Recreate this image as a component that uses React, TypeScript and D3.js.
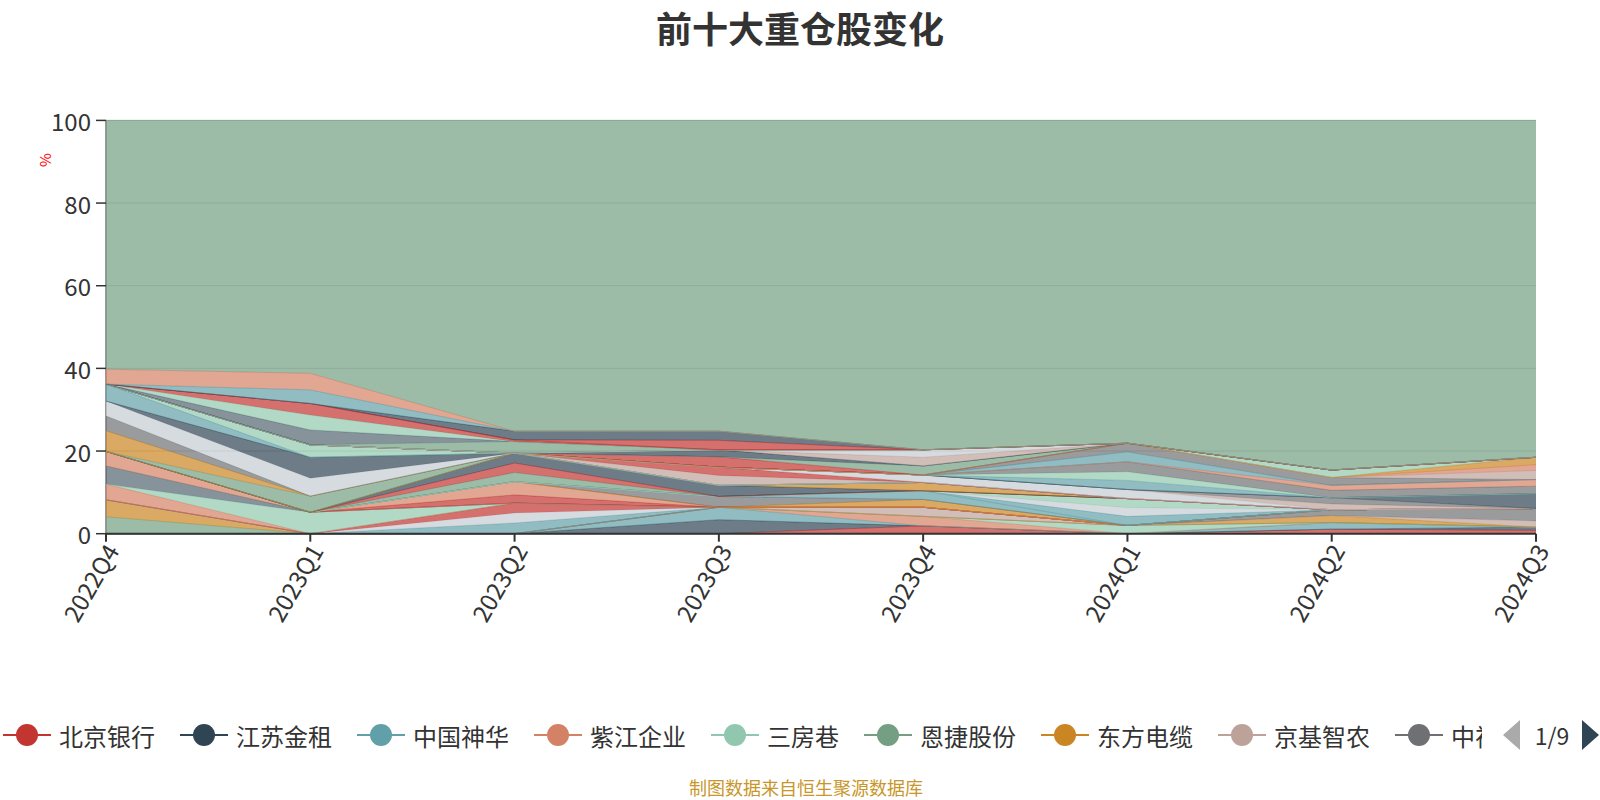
import React from 'react';
import * as d3 from 'd3';

const quarters = ['2022Q4', '2023Q1', '2023Q2', '2023Q3', '2023Q4', '2024Q1', '2024Q2', '2024Q3'];
const yTicks = [0, 20, 40, 60, 80, 100];

// stacking order, bottom to top (first nine are the visible legend page)
const seriesNames = [
  '北京银行', '江苏金租', '中国神华', '紫江企业', '三房巷', '恩捷股份', '东方电缆', '京基智农', '中视传媒',
  '长江电力', '宁沪高速', '招商银行', '万华化学', '华阳股份', '中国海油', '新澳股份', '兴业银行', '贵州茅台',
  '中国移动', '福耀玻璃', '陕西煤业', '中国石油', '大秦铁路', '海尔智家', '宁德时代', '工商银行', '中远海控',
  '美的集团', '隆基绿能', '三一重工', '通威股份', '紫金矿业', '比亚迪', '格力电器', '立讯精密', '伊利股份',
  '宁波银行', '中国电信', '牧原股份', '山东高速', '中国银行', '建设银行', '农业银行', '中国平安', '海螺水泥',
  '五粮液', '中国建筑', '温氏股份', '上汽集团', '汇川技术', '洛阳钼业', '成都银行', '天合光能', '中信证券',
  '恒瑞医药', '迈瑞医疗', '晶澳科技', '华能水电', '中国核电', '杭州银行', '南京银行', '中国重汽', '厦门象屿',
  '中国中免',
];

// % of net value per quarter, same order as seriesNames
const seriesValues = [
  [0, 0, 0, 0, 1.9, 0, 1.1, 0.8],
  [0, 0, 0, 3.4, 0, 0, 0, 0.8],
  [0, 0, 0, 3.0, 0, 0, 1.6, 0],
  [0, 0, 0, 0, 2.3, 0, 0, 0],
  [0, 0, 0, 0, 0, 2.0, 0, 0],
  [4.1, 0, 0, 0, 0, 0, 0, 0],
  [4.1, 0, 0, 0, 0, 0, 1.7, 0],
  [0, 0, 0, 0, 2.2, 0, 0, 1.5],
  [0, 0, 0, 0, 0, 0, 1.4, 3.0],
  [0, 0, 2.6, 0, 0, 0, 0, 0],
  [0, 0, 2.4, 0, 0, 0, 0, 0],
  [0, 0, 2.4, 0, 0, 0, 0, 0],
  [3.8, 0, 0, 0, 0, 0, 0, 0],
  [0, 5.2, 0, 0, 0, 0, 0, 0],
  [4.4, 0, 0, 0, 0, 0, 0, 0],
  [3.5, 0, 0, 0, 0, 0, 0, 0],
  [0, 0, 2.0, 0, 0, 0, 0, 0],
  [0, 0, 3.2, 0, 0, 0, 0, 0],
  [0, 0, 0, 0, 1.9, 0, 0, 0],
  [0, 0, 0, 2.6, 0, 0, 0, 0],
  [0, 0, 0, 0, 2.1, 0, 0, 0],
  [0, 0, 0, 0, 0, 2.2, 0, 0],
  [0, 0, 0, 0, 0, 2.1, 0, 0],
  [0, 0, 0, 0, 0, 2.2, 0, 0],
  [0, 0, 2.2, 0, 0, 0, 0, 0],
  [0, 0, 2.3, 0, 0, 0, 0, 0],
  [0, 0, 2.4, 2.7, 0, 0, 0, 0],
  [0, 0, 0, 0, 2.0, 0, 0, 0],
  [0, 3.9, 0, 0, 0, 0, 0, 0],
  [5.0, 0, 0, 0, 0, 0, 0, 0],
  [3.6, 0, 0, 0, 0, 0, 0, 0],
  [3.6, 4.3, 0, 0, 0, 0, 0, 0],
  [0, 5.1, 0, 0, 0, 0, 0, 0],
  [4.1, 0, 0, 0, 0, 0, 0, 0],
  [0, 3.0, 0, 0, 0, 0, 0, 0],
  [0, 0, 0, 2.4, 0, 0, 0, 0],
  [0, 0, 0, 2.0, 0, 0, 0, 0],
  [0, 0, 0, 0, 1.8, 2.2, 0, 0],
  [0, 0, 0, 0, 0, 0, 1.4, 0],
  [0, 0, 0, 0, 0, 0, 1.5, 0],
  [0, 0, 0, 0, 0, 0, 0, 3.6],
  [0, 0, 0, 0, 0, 2.2, 0, 0],
  [0, 0, 0, 0, 0, 2.1, 0, 0],
  [0, 0, 0, 0, 0, 2.4, 1.8, 1.8],
  [0, 0, 0, 0, 0, 0, 1.2, 1.6],
  [0, 0, 0, 0, 0, 2.4, 0, 0],
  [0, 0, 0, 0, 0, 2.1, 1.9, 0],
  [0, 0, 0, 0, 0, 0, 0, 2.2],
  [0, 0, 0, 0, 0, 0, 0, 1.4],
  [0, 0, 0, 0, 0, 0, 0, 1.8],
  [0, 0, 0, 0, 0, 0, 1.8, 0],
  [0, 0, 0, 2.5, 0, 0, 0, 0],
  [0, 0, 0, 0, 2.2, 0, 0, 0],
  [0, 0, 0, 1.7, 0, 0, 0, 0],
  [0, 0, 0, 0, 2.1, 0, 0, 0],
  [0, 0, 0, 0, 1.8, 0, 0, 0],
  [0, 0, 2.8, 0, 0, 0, 0, 0],
  [0, 3.6, 0, 0, 0, 0, 0, 0],
  [0, 3.6, 0, 0, 0, 0, 0, 0],
  [0, 2.8, 0.4, 0, 0, 0, 0, 0],
  [0, 0, 0, 2.3, 0, 0, 0, 0],
  [0, 0, 2.1, 2.2, 0, 0, 0, 0],
  [0, 3.3, 0, 0, 0, 0, 0, 0],
  [3.6, 4.0, 0, 0, 0, 0, 0, 0],
];

const otherName = '其他';
const otherValues = [60.2, 61.2, 75.2, 75.2, 79.7, 78.1, 84.6, 81.5];

// ---- styles ----
const palette: Record<string, string> = {
  red: '#c23531', dark: '#2f4554', blue: '#61a0a8', salmon: '#d48265', mint: '#91c7ae',
  green: '#749f83', orange: '#ca8622', beige: '#bda29a', gray: '#6e7074', slate: '#546570', light: '#c4ccd3',
};
const seriesColorKeys = [
  'red', 'dark', 'blue', 'salmon', 'mint', 'green', 'orange', 'beige', 'gray',
  'blue', 'light', 'red', 'salmon', 'mint', 'slate', 'salmon', 'red', 'salmon',
  'orange', 'gray', 'blue', 'blue', 'light', 'mint', 'green', 'red', 'dark',
  'orange', 'green', 'orange', 'gray', 'light', 'dark', 'blue', 'mint', 'beige',
  'red', 'light', 'beige', 'gray', 'dark', 'blue', 'mint', 'gray', 'salmon',
  'blue', 'gray', 'beige', 'salmon', 'orange', 'mint', 'red', 'green', 'dark',
  'beige', 'light', 'green', 'slate', 'mint', 'red', 'red', 'dark', 'blue',
  'salmon',
];
const otherColorKey = 'green';

const FONT = "'Noto Sans CJK SC', 'Noto Sans', sans-serif";

export default function App() {
  const W = 1600;
  const H = 800;
  const left = 106;
  const right = 1536;
  const top = 120.4;
  const bottom = 533.7;
  const legendClipX = 1482;

  const x = d3.scalePoint<string>().domain(quarters).range([left, right]);
  const y = d3.scaleLinear().domain([0, 100]).range([bottom, top]);

  const keys = [...seriesNames, otherName];
  const colors = [...seriesColorKeys, otherColorKey].map((k) => palette[k]);
  const rows = quarters.map((q, i) => {
    const r: any = { q };
    seriesNames.forEach((n, j) => (r[n] = seriesValues[j][i]));
    r[otherName] = otherValues[i];
    return r;
  });
  const layers = d3.stack<any>().keys(keys)(rows);
  const area = d3
    .area<any>()
    .x((d) => x(d.data.q) as number)
    .y0((d) => y(d[0]))
    .y1((d) => y(d[1]));
  const line = d3
    .line<any>()
    .x((d) => x(d.data.q) as number)
    .y((d) => y(d[1]));

  // legend layout (first page); labels cut where the page area ends
  const legendFs = 24;
  const legendItems: { name: string; label: string; color: string; x0: number }[] = [];
  let lx = 3;
  for (let i = 0; i < 9; i++) {
    const name = seriesNames[i];
    const tx = lx + 56;
    const fitChars = Math.max(1, Math.ceil((legendClipX - tx) / legendFs));
    legendItems.push({ name, label: name.slice(0, fitChars), color: colors[i], x0: lx });
    lx += 56 + name.length * legendFs + 25;
  }
  const legendY = 735;

  return (
    <svg
      width={W}
      height={H}
      style={{ position: 'absolute', left: 0, top: 0, background: '#fff' }}
      fontFamily={FONT}
    >
      <defs>
        <clipPath id="legendClip">
          <rect x={0} y={700} width={legendClipX} height={70} />
        </clipPath>
      </defs>

      <text x={800} y={27} textAnchor="middle" dominantBaseline="central" fontSize={36} fontWeight="bold" fill="#333">
        前十大重仓股变化
      </text>

      {/* grid */}
      {yTicks.map((t) => (
        <line key={'g' + t} x1={left} x2={right} y1={y(t)} y2={y(t)} stroke="#ccc" strokeWidth={1} />
      ))}
      <line x1={left} x2={left} y1={top} y2={bottom} stroke="#333" strokeWidth={1} />

      {/* stacked areas */}
      {layers.map((layer, i) => (
        <g key={keys[i]}>
          <path d={area(layer) as string} fill={colors[i]} fillOpacity={0.7} stroke="none" />
          <path d={line(layer) as string} fill="none" stroke={colors[i]} strokeWidth={1} strokeOpacity={0.7} />
        </g>
      ))}

      {/* y axis */}
      {yTicks.map((t) => (
        <g key={'y' + t}>
          <line x1={left - 10} x2={left} y1={y(t)} y2={y(t)} stroke="#333" strokeWidth={1.5} />
          <text x={left - 15} y={y(t)} textAnchor="end" dominantBaseline="central" fontSize={24} fill="#333">
            {t}
          </text>
        </g>
      ))}
      <text
        transform={`translate(44,160) rotate(-90)`}
        textAnchor="middle"
        dominantBaseline="central"
        fontSize={15}
        fill="#ff0000"
      >
        %
      </text>

      {/* x axis */}
      <line x1={left} x2={right} y1={bottom} y2={bottom} stroke="#333" strokeWidth={2} />
      {quarters.map((q) => (
        <g key={'x' + q}>
          <line x1={x(q)} x2={x(q)} y1={bottom} y2={bottom + 8} stroke="#333" strokeWidth={2} />
          <text
            transform={`translate(${(x(q) as number) + 5},${bottom + 12}) rotate(-60)`}
            textAnchor="end"
            dominantBaseline="central"
            fontSize={24}
            fill="#333"
          >
            {q}
          </text>
        </g>
      ))}

      {/* legend */}
      <g clipPath="url(#legendClip)">
        {legendItems.map((it) => (
          <g key={'l' + it.name}>
            <line x1={it.x0} x2={it.x0 + 48} y1={legendY} y2={legendY} stroke={it.color} strokeWidth={2} />
            <circle cx={it.x0 + 24} cy={legendY} r={11} fill={it.color} />
            <text x={it.x0 + 56} y={legendY} dominantBaseline="central" fontSize={legendFs} fill="#333">
              {it.label}
            </text>
          </g>
        ))}
      </g>
      <path d="M1520,720 L1503,735 L1520,750 Z" fill="#aaa" />
      <text x={1552} y={legendY} textAnchor="middle" dominantBaseline="central" fontSize={23} fill="#333">
        1/9
      </text>
      <path d="M1582,720 L1599,735 L1582,750 Z" fill="#2f4554" />

      <text x={806} y={787} textAnchor="middle" dominantBaseline="central" fontSize={18} fill="#c8962a">
        制图数据来自恒生聚源数据库
      </text>
    </svg>
  );
}
